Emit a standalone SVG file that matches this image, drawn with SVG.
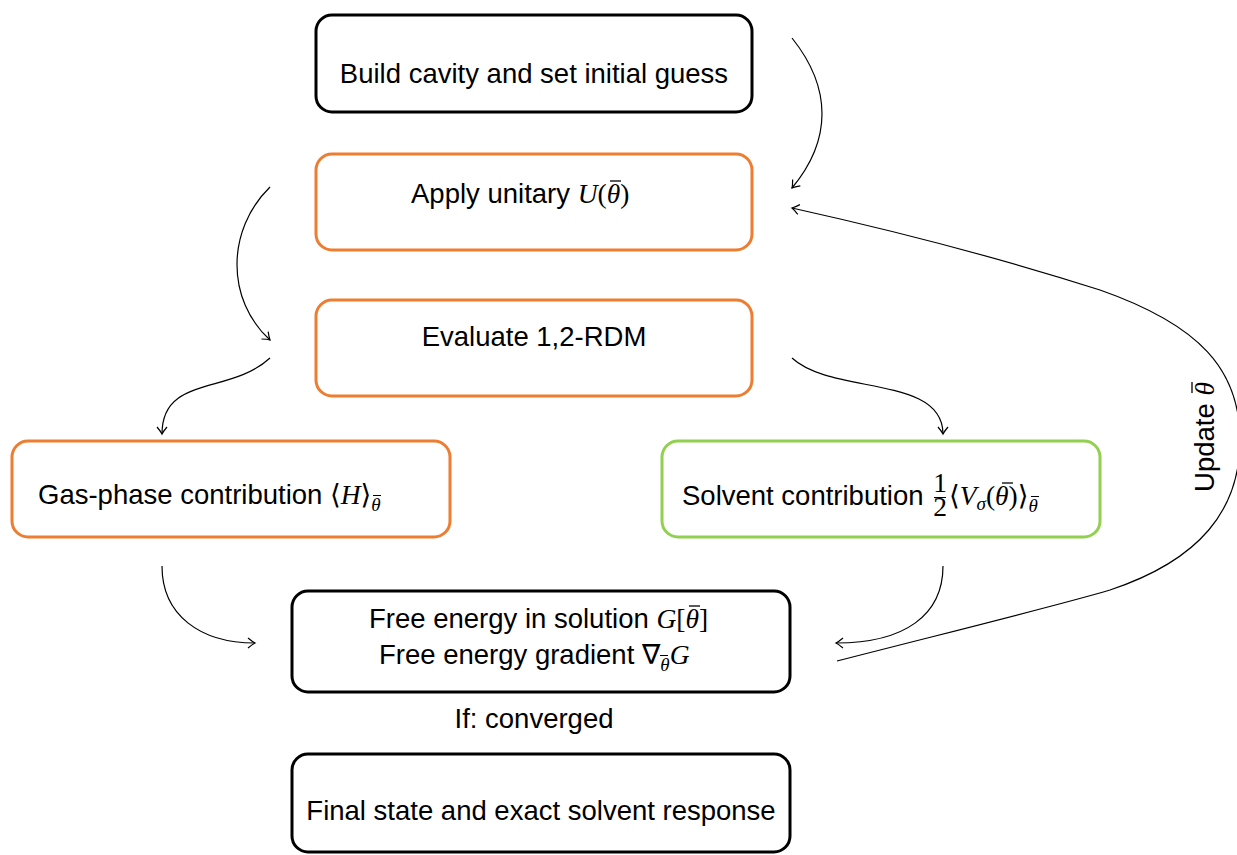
<svg xmlns="http://www.w3.org/2000/svg" width="1237" height="855" viewBox="0 0 1237 855">
<style>
.box{fill:#fff;stroke-width:3}
.k{stroke:#000}
.o{stroke:#ED7D31}
.g{stroke:#92D050}
.t{font-family:"Liberation Sans","DejaVu Sans",sans-serif;font-size:27.5px;fill:#000}
.m{font-family:"Liberation Serif","DejaVu Serif",serif;font-style:italic}
.r{font-family:"Liberation Serif","DejaVu Serif",serif;font-style:normal}
.e{fill:none;stroke:#000;stroke-width:1.2}
.bar{stroke:#000;stroke-width:1.3}
.bs{stroke:#000;stroke-width:1}
</style>
<defs>
<marker id="ah" markerUnits="userSpaceOnUse" markerWidth="16" markerHeight="16" refX="0" refY="0" viewBox="-9 -8 12 16" orient="auto">
<path d="M-7,-5 Q-2.5,-1.2 0,0 Q-2.5,1.2 -7,5" fill="none" stroke="#000" stroke-width="1.2"/>
</marker>
</defs>
<rect width="1237" height="855" fill="#fff"/>
<g id="n1"><rect class="box k" x="316" y="15" width="436" height="97" rx="16"/>
<text class="t" x="534" y="83" text-anchor="middle">Build cavity and set initial guess</text></g>
<g id="n2"><rect class="box o" x="316" y="154" width="436" height="96" rx="16"/>
<text class="t" x="411" y="203">Apply unitary <tspan class="m">U</tspan><tspan class="r">(</tspan><tspan class="m">θ</tspan><tspan class="r">)</tspan></text>
<line class="bar" x1="610" y1="181" x2="621" y2="181"/></g>
<g id="n3"><rect class="box o" x="316" y="300" width="436" height="96" rx="16"/>
<text class="t" x="534" y="346" text-anchor="middle">Evaluate 1,2-RDM</text></g>
<g id="n4"><rect class="box o" x="12" y="441" width="438" height="96" rx="16"/>
<text class="t" x="38" y="504">Gas-phase contribution <tspan class="r">⟨</tspan><tspan class="m">H</tspan><tspan class="r">⟩</tspan><tspan class="m" font-size="19" dy="7">θ</tspan></text>
<line class="bs" x1="373" y1="495.5" x2="381" y2="495.5"/></g>
<g id="n5"><rect class="box g" x="662" y="441" width="438" height="96" rx="16"/>
<text class="t" x="682" y="505">Solvent contribution</text>
<text class="t r" font-size="15" text-anchor="middle"><tspan x="940" y="492">1</tspan><tspan x="940" y="516">2</tspan></text>
<line x1="934" y1="497.5" x2="946" y2="497.5" stroke="#000" stroke-width="1"/>
<text class="t" x="949" y="505"><tspan class="r">⟨</tspan><tspan class="m">V</tspan><tspan class="m" font-size="19" dy="5">σ</tspan><tspan class="r" dy="-5">(</tspan><tspan class="m">θ</tspan><tspan class="r">)⟩</tspan><tspan class="m" font-size="19" dy="7">θ</tspan></text>
<line class="bar" x1="1002" y1="483" x2="1013" y2="483"/>
<line class="bs" x1="1031" y1="496.5" x2="1039" y2="496.5"/></g>
<g id="n6"><rect class="box k" x="292" y="591" width="498" height="101" rx="16"/>
<text class="t" x="369" y="628">Free energy in solution <tspan class="m">G</tspan><tspan class="r">[</tspan><tspan class="m">θ</tspan><tspan class="r">]</tspan></text>
<line class="bar" x1="689" y1="606" x2="700" y2="606"/>
<text class="t" x="379" y="664">Free energy gradient ∇<tspan class="m" font-size="19" dy="7">θ</tspan><tspan class="m" dy="-7">G</tspan></text>
<line class="bs" x1="660" y1="655.5" x2="668" y2="655.5"/></g>
<g id="lbl"><text class="t" x="534" y="728" text-anchor="middle">If:  converged</text></g>
<g id="n7"><rect class="box k" x="292" y="754" width="498" height="98" rx="16"/>
<text class="t" x="541" y="820" text-anchor="middle">Final state and exact solvent response</text></g>
<g id="edges">
<path class="e" d="M792,38 C832,88 832,140 792,188" marker-end="url(#ah)"/>
<path class="e" d="M270,187 C226,230 226,300 270,340" marker-end="url(#ah)"/>
<path class="e" d="M270,358 C230,395 162,375 162,434" marker-end="url(#ah)"/>
<path class="e" d="M792,358 C832,395 943,375 943,434" marker-end="url(#ah)"/>
<path class="e" d="M162,566 C162,615 200,643 255,643" marker-end="url(#ah)"/>
<path class="e" d="M943,566 C943,615 905,643 836,643" marker-end="url(#ah)"/>
<path class="e" d="M837,661 C950,632 1060,605 1110,590 C1200,560 1240,510 1240,440 C1240,370 1200,325 1100,290 C1000,258 900,232 792,208" marker-end="url(#ah)"/>
<g transform="translate(1214,437) rotate(-90)">
<text class="t" x="0" y="0" text-anchor="middle">Update <tspan class="m">θ</tspan></text>
<line class="bar" x1="44" y1="-22" x2="55" y2="-22"/>
</g>
</g>
</svg>
